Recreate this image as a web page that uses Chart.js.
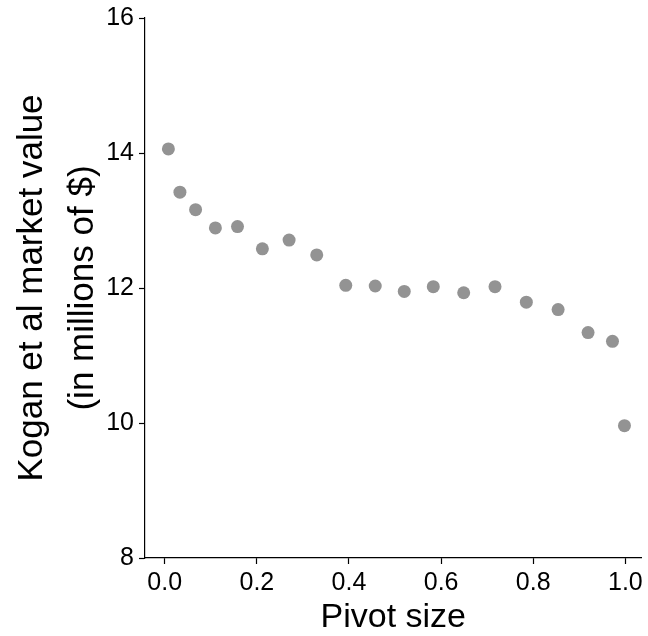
<!DOCTYPE html>
<html>
<head>
<meta charset="utf-8">
<script src="https://cdn.jsdelivr.net/npm/chart.js@4/dist/chart.umd.min.js"></script>
<style>
    html, body { margin: 0; padding: 0; background: #fff; }
    #wrap { width: 648px; height: 636px; position: relative; }
</style>
</head>
<body>
<div id="wrap"><canvas id="c" width="648" height="636"></canvas></div>
<script>
(function () {
    'use strict';

    // values
    var pivotSize = [0.008, 0.033, 0.067, 0.110, 0.158, 0.212, 0.270, 0.330, 0.393, 0.457,
        0.520, 0.583, 0.649, 0.717, 0.785, 0.854, 0.919, 0.972, 0.998];
    var marketValue = [14.06, 13.42, 13.16, 12.89, 12.91, 12.58, 12.71, 12.49, 12.04, 12.03,
        11.95, 12.02, 11.93, 12.02, 11.79, 11.68, 11.34, 11.21, 9.96];
    var xTicks = [0, 0.2, 0.4, 0.6, 0.8, 1.0];
    var yTicks = [8, 10, 12, 14, 16];

    var FONT = '"Liberation Sans", Arial, Helvetica, sans-serif';
    var INK = '#000';

    var points = [];
    for (var i = 0; i < pivotSize.length; i++) {
        points.push({ x: pivotSize[i], y: marketValue[i] });
    }

    function fixedTicks(values) {
        return function (scale) {
            scale.ticks = values.map(function (v) { return { value: v }; });
        };
    }

    var axisGrid = {
        display: true,
        drawOnChartArea: false,
        drawTicks: true,
        tickLength: 6,
        tickColor: INK,
        tickWidth: 1.2
    };
    var axisBorder = { display: true, color: INK, width: 1.2 };

    new Chart(document.getElementById('c'), {
        type: 'scatter',
        data: {
            datasets: [{
                data: points,
                backgroundColor: '#939393',
                borderColor: '#939393',
                borderWidth: 0,
                pointRadius: 6.5,
                pointHoverRadius: 6.5
            }]
        },
        options: {
            responsive: false,
            animation: false,
            layout: { padding: { top: 18, right: 0, bottom: 1, left: 0 } },
            plugins: {
                legend: { display: false },
                tooltip: { enabled: false }
            },
            scales: {
                x: {
                    type: 'linear',
                    min: -0.0428,
                    max: 1.035,
                    afterBuildTicks: fixedTicks(xTicks),
                    afterFit: function (scale) { scale.height = 77; },
                    grid: axisGrid,
                    border: axisBorder,
                    ticks: {
                        color: INK,
                        padding: 4,
                        maxRotation: 0,
                        font: { family: FONT, size: 25 },
                        callback: function (v) { return Number(v).toFixed(1); }
                    },
                    title: {
                        display: true,
                        text: 'Pivot size',
                        color: INK,
                        padding: { top: 0, bottom: 0 },
                        font: { family: FONT, size: 34, lineHeight: 1.0 }
                    }
                },
                y: {
                    type: 'linear',
                    min: 8,
                    max: 16,
                    afterBuildTicks: fixedTicks(yTicks),
                    afterFit: function (scale) {
                        scale.width = 145;
                        scale.paddingTop = 0;
                        scale.paddingBottom = 0;
                    },
                    grid: axisGrid,
                    border: axisBorder,
                    ticks: {
                        color: INK,
                        padding: 5,
                        font: { family: FONT, size: 25, lineHeight: 1.0 },
                        callback: function (v) { return String(v); }
                    },
                    title: {
                        display: true,
                        text: ['Kogan et al market value', '(in millions of $)'],
                        color: INK,
                        padding: { top: 6, bottom: 0 },
                        font: { family: FONT, size: 35, lineHeight: 1.48 }
                    }
                }
            }
        }
    });
})();
</script>
</body>
</html>
